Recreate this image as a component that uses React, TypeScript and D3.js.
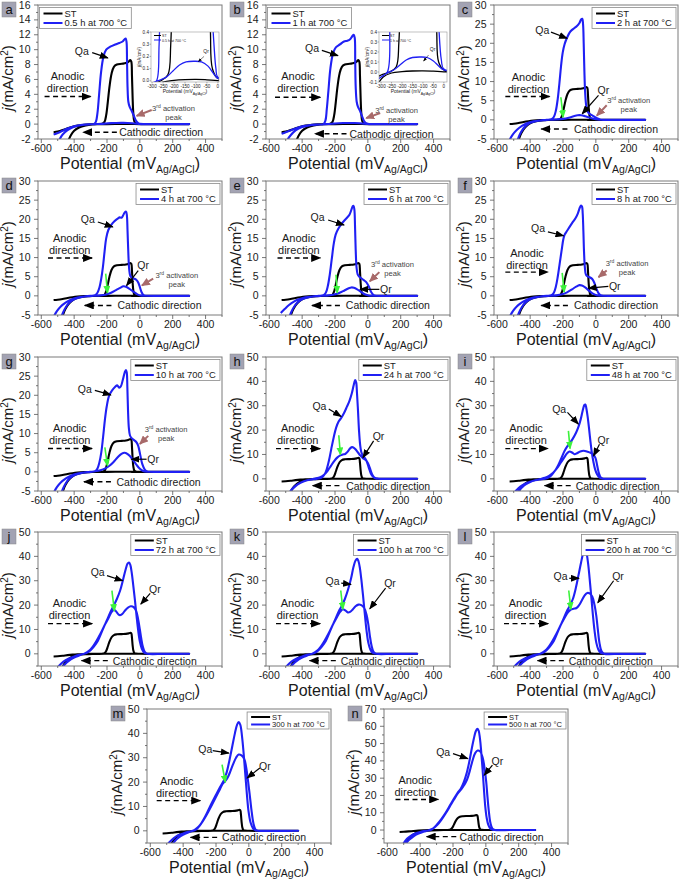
import React from 'react';
import * as d3 from 'd3';

type Pt = [number, number];

// ---------- data: [potential mV, j mA/cm2], forward scan then reverse scan ----------
const ST: Pt[] = [
  [-525, -1.1], [-500, -1.0], [-470, -0.8], [-440, -0.55], [-410, -0.35], [-380, -0.2], [-340, -0.08], [-300, -0.03], [-260, 0], [-228, 0.05],
  [-215, 0.3], [-205, 1.2], [-195, 3], [-185, 5], [-172, 6.8], [-158, 7.7], [-140, 8.0], [-110, 8.1], [-85, 8.2], [-68, 8.4], [-58, 8.6],
  [-52, 8.4], [-48, 6.5], [-44, 3.5], [-40, 1.5], [-34, 0.4], [-25, 0.1], [0, 0.02], [150, 0], [300, 0],
  [150, 0.001], [0, 0.002], [-50, 0.008], [-100, 0.012], [-150, 0.01], [-200, 0.004], [-250, -0.01], [-290, -0.05], [-330, -0.18],
  [-370, -0.45], [-400, -0.9], [-420, -1.5], [-440, -2.5], [-455, -3.6], [-468, -5], [-480, -6.5], [-495, -8.5],
];

const H0_5: Pt[] = [
  [-525, -1.4], [-500, -1.2], [-470, -0.9], [-440, -0.6], [-400, -0.3], [-350, -0.1], [-300, -0.02], [-280, 0], [-268, 0.3], [-258, 1.5],
  [-248, 4], [-236, 7], [-222, 9], [-205, 10], [-180, 10.4], [-150, 10.7], [-125, 10.9], [-105, 11.1], [-93, 11.4], [-86, 11.5], [-81, 11],
  [-78, 8.5], [-75, 5], [-70, 3], [-62, 2.3], [-50, 1.8], [-38, 1.2], [-26, 0.55], [-18, 0.3], [-9, 0.1], [0, 0.03], [150, 0], [300, 0],
  [150, 0.001], [0, 0.02], [-20, 0.06], [-45, 0.12], [-75, 0.155], [-110, 0.16], [-145, 0.155], [-175, 0.13], [-205, 0.08], [-235, 0.03],
  [-265, 0.005], [-300, -0.02], [-350, -0.1], [-400, -0.35], [-440, -0.8], [-470, -1.4], [-495, -2.3], [-515, -3.2],
];

const H1: Pt[] = [
  [-525, -1.3], [-500, -1.1], [-470, -0.85], [-440, -0.6], [-400, -0.3], [-350, -0.12], [-300, -0.05], [-270, 0], [-258, 0.5], [-250, 2],
  [-240, 4.5], [-228, 7.5], [-212, 9.5], [-195, 10.3], [-170, 10.7], [-145, 11.1], [-125, 11.2], [-108, 11.4], [-95, 11.8], [-86, 12],
  [-80, 11.6], [-77, 8.5], [-74, 5], [-68, 3], [-60, 2.3], [-48, 1.8], [-36, 1.1], [-24, 0.45], [-12, 0.12], [0, 0.03], [150, 0], [300, 0],
  [150, 0.001], [0, 0.02], [-25, 0.06], [-50, 0.11], [-80, 0.145], [-115, 0.15], [-150, 0.145], [-180, 0.12], [-210, 0.07], [-240, 0.02],
  [-270, -0.01], [-300, -0.05], [-350, -0.15], [-400, -0.4], [-440, -0.85], [-470, -1.5], [-492, -2.2], [-512, -3.2],
];

const H2: Pt[] = [
  [-525, -5.2], [-505, -3.8], [-480, -2.6], [-450, -1.6], [-420, -0.9], [-380, -0.4], [-340, -0.15], [-300, 0], [-270, 0.2], [-255, 0.8],
  [-243, 2.5], [-232, 5.5], [-222, 9.5], [-212, 14], [-202, 17.5], [-190, 19.8], [-175, 21.5], [-160, 22.8], [-145, 23.5], [-130, 24],
  [-115, 24.5], [-100, 25.3], [-90, 26.2], [-83, 26.4], [-78, 25], [-74, 20], [-70, 13], [-65, 7], [-58, 3.5], [-48, 2], [-35, 1.5],
  [-20, 1.1], [-5, 0.7], [10, 0.35], [25, 0.1], [45, 0], [150, 0], [300, 0],
  [150, 0.001], [40, 0.02], [10, 0.1], [-15, 0.3], [-40, 0.6], [-65, 0.95], [-90, 1.2], [-110, 1.2], [-135, 0.95], [-165, 0.55], [-200, 0.25],
  [-240, 0.1], [-280, 0.02], [-320, -0.1], [-360, -0.3], [-400, -0.8], [-430, -1.7], [-450, -2.8], [-465, -4], [-478, -5.5], [-490, -7],
];

const H4: Pt[] = [
  [-525, -5.5], [-505, -4], [-480, -2.7], [-450, -1.7], [-420, -1.0], [-380, -0.45], [-340, -0.15], [-300, 0], [-272, 0.2], [-258, 0.8],
  [-246, 2.2], [-235, 4.5], [-225, 7.5], [-215, 11.5], [-205, 15], [-192, 17.2], [-175, 18.5], [-155, 19.5], [-135, 20.2], [-122, 20.5],
  [-112, 20.4], [-102, 21], [-92, 21.8], [-84, 22], [-79, 21], [-75, 17], [-70, 11], [-65, 7], [-58, 5.2], [-48, 4.7], [-35, 4.5],
  [-22, 4.2], [-10, 3.5], [0, 2.3], [10, 1], [20, 0.3], [35, 0.05], [60, 0], [150, 0], [300, 0],
  [150, 0.001], [30, 0.02], [5, 0.1], [-15, 0.4], [-40, 1.1], [-65, 1.9], [-85, 2.4], [-100, 2.5], [-120, 2.1], [-145, 1.5], [-175, 0.8],
  [-205, 0.35], [-240, 0.12], [-280, 0.02], [-320, -0.1], [-360, -0.35], [-400, -0.9], [-430, -1.8], [-450, -2.9], [-466, -4.2], [-478, -5.5], [-490, -7],
];

const H6: Pt[] = [
  [-530, -4.5], [-505, -3.4], [-480, -2.4], [-450, -1.5], [-420, -0.9], [-380, -0.4], [-340, -0.15], [-300, 0], [-270, 0.2], [-256, 0.8],
  [-244, 2.5], [-232, 5.5], [-220, 9.5], [-208, 13.5], [-196, 16], [-180, 17.5], [-160, 18.8], [-140, 19.8], [-125, 20.5], [-112, 21.2],
  [-100, 22.5], [-92, 23.4], [-87, 23.5], [-82, 22.5], [-78, 18], [-74, 12], [-69, 7.5], [-62, 5.6], [-52, 5], [-40, 4.6], [-25, 4.1],
  [-10, 3.6], [5, 2.5], [20, 1], [35, 0.2], [50, 0], [150, 0], [300, 0],
  [150, 0.001], [30, 0.02], [5, 0.1], [-15, 0.35], [-40, 1], [-65, 1.7], [-85, 2.1], [-100, 2.2], [-120, 1.9], [-145, 1.35], [-175, 0.75],
  [-205, 0.35], [-240, 0.12], [-280, 0.02], [-320, -0.1], [-360, -0.35], [-400, -0.9], [-430, -1.8], [-450, -2.9], [-466, -4.2], [-478, -5.5], [-490, -7],
];

const H8: Pt[] = [
  [-525, -5.5], [-505, -4], [-480, -2.7], [-450, -1.7], [-420, -1.0], [-380, -0.45], [-340, -0.15], [-300, 0], [-270, 0.2], [-255, 0.9],
  [-243, 2.5], [-232, 5], [-220, 8.5], [-208, 12], [-198, 14.8], [-190, 16], [-175, 17], [-160, 18], [-140, 19.3], [-125, 20.2],
  [-110, 21.5], [-98, 23], [-90, 23.6], [-84, 23.3], [-80, 21.5], [-76, 17], [-72, 11.5], [-67, 7.5], [-60, 5.5], [-48, 5], [-35, 4.8],
  [-22, 4.4], [-10, 3.5], [2, 2], [15, 0.8], [28, 0.2], [45, 0], [150, 0], [300, 0],
  [150, 0.001], [30, 0.02], [5, 0.15], [-15, 0.5], [-40, 1.3], [-65, 2.2], [-85, 2.7], [-100, 2.8], [-120, 2.4], [-145, 1.7], [-175, 0.9],
  [-205, 0.4], [-240, 0.12], [-280, 0.02], [-320, -0.1], [-360, -0.35], [-400, -0.9], [-430, -1.8], [-450, -2.9], [-466, -4.2], [-478, -5.5], [-490, -7],
];

const H10: Pt[] = [
  [-525, -5.5], [-505, -4], [-480, -2.7], [-450, -1.7], [-420, -1.0], [-380, -0.45], [-340, -0.15], [-300, 0], [-272, 0.2], [-258, 0.9],
  [-246, 2.5], [-235, 5], [-224, 9], [-213, 13.5], [-202, 17], [-188, 19.8], [-170, 21.2], [-150, 22.2], [-138, 22.6], [-126, 22],
  [-116, 22.3], [-104, 24], [-92, 26], [-85, 26.6], [-80, 26], [-76, 22], [-72, 16], [-67, 11.5], [-60, 9.5], [-50, 8.8], [-35, 8.3],
  [-22, 7.8], [-10, 6.8], [2, 4.5], [15, 2], [30, 0.6], [45, 0.1], [60, 0], [150, 0], [300, 0],
  [150, 0.001], [50, 0.02], [20, 0.2], [0, 0.8], [-20, 1.8], [-45, 3.3], [-70, 4.5], [-92, 5], [-112, 4.7], [-135, 3.8], [-160, 2.6],
  [-185, 1.6], [-210, 0.9], [-240, 0.4], [-280, 0.1], [-320, -0.1], [-360, -0.35], [-400, -0.9], [-430, -1.8], [-450, -2.9], [-466, -4.2], [-478, -5.5], [-490, -7],
];

const H24: Pt[] = [
  [-485, -6.5], [-465, -4.6], [-440, -3], [-415, -1.8], [-390, -1.0], [-360, -0.5], [-330, -0.2], [-300, 0.1], [-280, 0.6], [-262, 2],
  [-248, 4.5], [-235, 8], [-222, 12.5], [-208, 17], [-193, 21], [-178, 23.5], [-162, 25], [-145, 27], [-128, 29.5], [-112, 32], [-98, 35],
  [-86, 38.5], [-77, 40.5], [-71, 39.5], [-66, 35], [-60, 28], [-54, 20], [-47, 14], [-40, 11], [-30, 9.5], [-18, 8.5], [-6, 7], [6, 4.5],
  [18, 2.2], [32, 0.8], [48, 0.1], [65, 0], [150, 0], [300, 0],
  [150, 0.001], [65, 0.05], [40, 0.5], [25, 2], [12, 4.5], [0, 6.5], [-15, 7.8], [-30, 8.5], [-45, 9.5], [-60, 10.8], [-78, 12.3], [-95, 13],
  [-108, 12.5], [-122, 11.2], [-138, 10.2], [-152, 10], [-168, 9.6], [-185, 8.8], [-205, 7.3], [-225, 5.3], [-245, 3.3], [-265, 1.8],
  [-290, 0.7], [-320, 0.1], [-350, -0.3], [-380, -0.8], [-410, -1.6], [-435, -2.6], [-455, -3.8], [-470, -5], [-485, -6.5],
];

const H48: Pt[] = [
  [-505, -6.5], [-485, -4.8], [-460, -3.2], [-430, -2], [-400, -1.2], [-370, -0.6], [-340, -0.25], [-310, 0], [-290, 0.5], [-270, 1.5],
  [-250, 3.2], [-230, 5.5], [-210, 8.5], [-190, 11.5], [-175, 13.2], [-160, 14.5], [-140, 16.5], [-120, 19], [-105, 21.5], [-92, 24.5],
  [-80, 28], [-70, 30.3], [-64, 30.5], [-58, 29], [-50, 25.5], [-42, 21], [-34, 16], [-25, 11], [-15, 7], [-5, 4], [8, 1.8], [22, 0.6],
  [38, 0.1], [55, 0], [150, 0], [300, 0],
  [150, 0.001], [45, 0.05], [30, 0.6], [18, 2.5], [8, 5.5], [-2, 8.5], [-15, 10], [-30, 10.6], [-50, 11.1], [-75, 11.5], [-95, 11.2],
  [-115, 10.5], [-130, 10.1], [-145, 10.8], [-160, 11.2], [-175, 10.5], [-195, 8.5], [-215, 6.5], [-235, 4.5], [-260, 2.5], [-285, 1.2],
  [-310, 0.4], [-340, -0.1], [-370, -0.6], [-400, -1.3], [-425, -2.2], [-448, -3.4], [-465, -4.6], [-480, -6],
];

const H72: Pt[] = [
  [-510, -6.5], [-490, -4.8], [-465, -3.2], [-435, -2], [-405, -1.2], [-375, -0.5], [-345, -0.1], [-320, 0.5], [-300, 1.5], [-280, 3],
  [-256, 5.3], [-230, 9.3], [-200, 13.9], [-176, 17.6], [-160, 19.7], [-140, 22.5], [-120, 26], [-102, 30.5], [-87, 34.5], [-75, 37],
  [-66, 37.5], [-58, 36.5], [-50, 33.5], [-40, 28], [-30, 22], [-20, 15.5], [-10, 9.5], [0, 5], [12, 2], [25, 0.6], [40, 0.1], [60, 0],
  [150, 0], [300, 0],
  [150, 0.001], [45, 0.05], [30, 0.8], [18, 3], [8, 6.5], [0, 10], [-10, 14], [-22, 17.5], [-38, 19.2], [-55, 19.5], [-72, 19], [-90, 17.8],
  [-108, 16.3], [-125, 15.9], [-140, 17], [-155, 18], [-170, 17.4], [-190, 14.8], [-210, 12.3], [-230, 9.6], [-250, 7], [-270, 4.6],
  [-290, 2.6], [-310, 1.2], [-335, 0.2], [-360, -0.4], [-390, -1.2], [-420, -2.3], [-445, -3.6], [-465, -5], [-480, -6.3],
];

const H100: Pt[] = [
  [-510, -6.5], [-490, -4.8], [-465, -3.2], [-435, -2], [-405, -1.2], [-375, -0.5], [-345, -0.1], [-320, 0.5], [-300, 1.5], [-280, 3],
  [-256, 5.3], [-230, 9.3], [-200, 13.9], [-176, 17.6], [-160, 19.5], [-140, 22.5], [-120, 26.5], [-102, 31], [-88, 35.5], [-75, 38.3],
  [-65, 39], [-57, 38], [-48, 35], [-38, 29.5], [-28, 23], [-18, 16], [-8, 9.5], [3, 4.5], [15, 1.8], [28, 0.5], [45, 0.1], [60, 0],
  [150, 0], [300, 0],
  [150, 0.001], [50, 0.05], [35, 0.8], [22, 3.5], [12, 7.5], [3, 12], [-8, 16], [-22, 18.8], [-40, 20], [-57, 20.2], [-75, 19.5],
  [-92, 18.2], [-108, 17.2], [-122, 17], [-137, 17.8], [-152, 18.3], [-168, 17.3], [-190, 14.8], [-210, 12.3], [-230, 9.6], [-250, 7],
  [-270, 4.6], [-290, 2.6], [-310, 1.2], [-335, 0.2], [-360, -0.4], [-390, -1.2], [-420, -2.3], [-445, -3.6], [-465, -5], [-480, -6.3],
];

const H200: Pt[] = [
  [-510, -6.5], [-490, -4.8], [-465, -3.2], [-435, -2], [-405, -1.2], [-375, -0.5], [-345, -0.1], [-320, 0.5], [-300, 1.5], [-280, 3],
  [-256, 5.3], [-230, 9.3], [-200, 13.9], [-176, 17.6], [-160, 19.5], [-140, 22.5], [-122, 27], [-105, 32.5], [-90, 37.5], [-77, 41.2],
  [-67, 42.5], [-58, 41.5], [-48, 37.5], [-38, 31], [-28, 23.5], [-18, 16], [-8, 9.5], [3, 4.5], [15, 1.8], [28, 0.5], [45, 0.1], [60, 0],
  [150, 0], [300, 0],
  [150, 0.001], [50, 0.05], [35, 1], [22, 4.5], [12, 10], [3, 15.5], [-8, 20], [-22, 23.5], [-38, 24.8], [-52, 25], [-68, 24], [-85, 22],
  [-102, 20], [-118, 18.8], [-135, 18.5], [-152, 18.2], [-170, 17], [-190, 14.8], [-210, 12.3], [-230, 9.6], [-250, 7], [-270, 4.6],
  [-290, 2.6], [-310, 1.2], [-335, 0.2], [-360, -0.4], [-390, -1.2], [-420, -2.3], [-445, -3.6], [-465, -5], [-480, -6.3],
];

const H300: Pt[] = [
  [-505, -6.5], [-485, -4.8], [-460, -3.2], [-435, -2], [-405, -1.2], [-375, -0.5], [-345, -0.1], [-320, 0.6], [-300, 2], [-275, 4.7],
  [-250, 8], [-225, 11.5], [-200, 14.8], [-175, 18], [-153, 20.6], [-135, 24], [-118, 29], [-100, 35], [-85, 40], [-72, 43.5], [-62, 44.6],
  [-52, 43.5], [-42, 39], [-32, 32], [-22, 23.5], [-12, 15], [-2, 8], [10, 3.5], [25, 1], [40, 0.2], [60, 0], [150, 0], [300, 0],
  [150, 0.001], [55, 0.05], [40, 0.6], [28, 3], [15, 9], [5, 15], [-5, 20.5], [-15, 25.5], [-28, 29.5], [-45, 31], [-62, 31.3], [-78, 30],
  [-95, 27.5], [-112, 24.5], [-128, 22], [-143, 20.5], [-160, 19.3], [-180, 16.5], [-205, 13.3], [-230, 10], [-255, 6.8], [-280, 4],
  [-305, 1.8], [-330, 0.4], [-355, -0.3], [-385, -1.1], [-415, -2.2], [-440, -3.5], [-460, -5], [-475, -6.3],
];

const H500: Pt[] = [
  [-502, -7.8], [-480, -5], [-455, -3.2], [-430, -2], [-400, -1.1], [-370, -0.5], [-340, -0.1], [-320, 1], [-295, 3.5], [-270, 6.5],
  [-245, 10], [-220, 14], [-195, 18], [-172, 21.5], [-152, 24], [-135, 27.5], [-118, 32.5], [-102, 39], [-88, 46], [-74, 52.5], [-62, 57],
  [-52, 58.5], [-44, 57.5], [-36, 53], [-28, 45], [-20, 35], [-12, 24], [-4, 14], [5, 7], [15, 3], [28, 0.8], [45, 0.1], [65, 0],
  [150, 0], [300, 0],
  [150, 0.001], [55, 0.05], [40, 0.8], [28, 4], [18, 11], [10, 19], [2, 28], [-8, 36], [-20, 42], [-35, 45.5], [-50, 46], [-65, 44.5],
  [-80, 40.5], [-97, 34.5], [-115, 29], [-132, 26], [-150, 23.5], [-172, 21], [-195, 17.5], [-220, 13.5], [-245, 9.6], [-270, 6],
  [-295, 3], [-320, 1], [-350, -0.2], [-380, -1], [-410, -2.1], [-440, -3.6], [-465, -5.5], [-488, -7.8],
];

const PANEL_LABELS = ['a', 'b', 'c', 'd', 'e', 'f', 'g', 'h', 'i', 'j', 'k', 'l', 'm', 'n'];
const LEGEND_LABELS = ['0.5 h at 700 °C', '1 h at 700 °C', '2 h at 700 °C', '4 h at 700 °C', '6 h at 700 °C', '8 h at 700 °C',
  '10 h at 700 °C', '24 h at 700 °C', '48 h at 700 °C', '72 h at 700 °C', '100 h at 700 °C', '200 h at 700 °C', '300 h at 700 °C', '500 h at 700 °C'];
const SERIES: Pt[][] = [H0_5, H1, H2, H4, H6, H8, H10, H24, H48, H72, H100, H200, H300, H500];
const X_TICKS = [-600, -400, -200, 0, 200, 400];
const Y_TICKS_16 = [-2, 0, 2, 4, 6, 8, 10, 12, 14, 16];
const Y_TICKS_30 = [-5, 0, 5, 10, 15, 20, 25, 30];
const Y_TICKS_50 = [0, 10, 20, 30, 40, 50];
const Y_TICKS_70 = [0, 10, 20, 30, 40, 50, 60, 70];
const INSET_X_TICKS = [-300, -250, -200, -150, -100, -50, 0];
const INSET_Y_TICKS_A = [0, 0.1, 0.2, 0.3, 0.4];
const INSET_Y_TICKS_B = [-0.1, 0, 0.1, 0.2, 0.3, 0.4];

// ---------- layout / annotations ----------
const FW = 184;
const FH = 134;
const X_DOMAIN: [number, number] = [-620, 500];
const BLUE = '#2020f4';
const FONT = 'Liberation Sans, Arial, Helvetica, sans-serif';

type Ann = { t: Pt; a: [Pt, Pt] };
type Cfg = {
  frame: [number, number];
  yDomain: [number, number];
  yTicks: number[];
  yMinor: number;
  legendLeft?: boolean;
  small?: boolean;
  qa: Ann;
  qr?: Ann;
  act?: Ann;
  green?: [Pt, Pt];
  anodic: { t: Pt; ay: number; ax: [number, number] };
  cath: { x: number; y: number; ax: [number, number] };
  inset?: { pos: [number, number]; size: [number, number]; xd: [number, number]; yd: [number, number]; yTicks: number[]; qr: Ann };
};

const CFG: Cfg[] = [
  { frame: [38, 5], yDomain: [-2, 16], yTicks: Y_TICKS_16, yMinor: 1, legendLeft: true,
    qa: { t: [-353, 9.8], a: [[-290, 9.6], [-195, 8.9]] },
    act: { t: [205, 2.2], a: [[72, 1.9], [-20, 1.1]] },
    anodic: { t: [-440, 6.4], ay: 3.7, ax: [-580, -300] },
    cath: { x: -126, y: -1.1, ax: [-140, -345] },
    inset: { pos: [113, 27], size: [68, 50], xd: [-305, 5], yd: [-0.01, 0.4], yTicks: INSET_Y_TICKS_A, qr: { t: [-54, 0.225], a: [[-63, 0.2], [-89, 0.158]] } } },
  { frame: [266, 5], yDomain: [-2, 16], yTicks: Y_TICKS_16, yMinor: 1, legendLeft: true,
    qa: { t: [-340, 10.2], a: [[-280, 9.9], [-182, 9.2]] },
    act: { t: [175, 1.9], a: [[75, 1.5], [-10, 0.8]] },
    anodic: { t: [-425, 6.4], ay: 3.6, ax: [-565, -290] },
    cath: { x: -112, y: -1.3, ax: [-130, -322] },
    inset: { pos: [113, 27], size: [68, 50], xd: [-310, 15], yd: [-0.1, 0.4], yTicks: INSET_Y_TICKS_B, qr: { t: [-54, 0.21], a: [[-73, 0.17], [-97, 0.11]] } } },
  { frame: [494, 5], yDomain: [-5, 30], yTicks: Y_TICKS_30, yMinor: 2.5,
    qa: { t: [-326, 23.5], a: [[-273, 22.9], [-175, 21.3]] },
    qr: { t: [46, 7.7], a: [[16, 6.4], [-83, 1.6]] },
    act: { t: [200, 5.1], a: [[66, 3.8], [6, 1.1]] },
    green: [[-213, 5.9], [-199, 0.7]],
    anodic: { t: [-410, 11.2], ay: 6.1, ax: [-551, -282] },
    cath: { x: -133, y: -2.4, ax: [-173, -332] } },
  { frame: [38, 181], yDomain: [-5, 30], yTicks: Y_TICKS_30, yMinor: 2.5,
    qa: { t: [-317, 20.2], a: [[-256, 19.3], [-165, 18]] },
    qr: { t: [20, 8], a: [[-10, 6.6], [-81, 2.7]] },
    act: { t: [225, 5.5], a: [[81, 4.5], [12, 2.7]] },
    green: [[-208, 5.8], [-197, 0.8]],
    anodic: { t: [-427, 15], ay: 9.9, ax: [-559, -291] },
    cath: { x: -136, y: -2.5, ax: [-173, -335] } },
  { frame: [266, 181], yDomain: [-5, 30], yTicks: Y_TICKS_30, yMinor: 2.5,
    qa: { t: [-306, 20.6], a: [[-242, 19.8], [-145, 18.5]] },
    qr: { t: [110, 1.7], a: [[70, 1.7], [-48, 1.7]] },
    act: { t: [150, 8.4], a: [[70, 6.2], [12, 3.8]] },
    green: [[-194, 5.5], [-186, 0.8]],
    anodic: { t: [-420, 15], ay: 9.9, ax: [-550, -290] },
    cath: { x: -134, y: -2.5, ax: [-170, -340] } },
  { frame: [494, 181], yDomain: [-5, 30], yTicks: Y_TICKS_30, yMinor: 2.5,
    qa: { t: [-352, 17.6], a: [[-292, 16.7], [-197, 15.7]] },
    qr: { t: [115, 2.7], a: [[76, 2.5], [-44, 2.0]] },
    act: { t: [190, 8.7], a: [[66, 6.6], [16, 4.9]] },
    green: [[-205, 6], [-193, 1.0]],
    anodic: { t: [-419, 11.3], ay: 6.2, ax: [-551, -292] },
    cath: { x: -133, y: -2.5, ax: [-170, -332] } },
  { frame: [38, 357], yDomain: [-5, 30], yTicks: Y_TICKS_30, yMinor: 2.5,
    qa: { t: [-335, 21.7], a: [[-274, 21.3], [-177, 20.1]] },
    qr: { t: [81, 3.3], a: [[41, 3.3], [-51, 3.3]] },
    act: { t: [160, 11.2], a: [[51, 9.4], [0, 7.3]] },
    green: [[-213, 6.4], [-197, 1.6]],
    anodic: { t: [-427, 11.4], ay: 6.1, ax: [-559, -291] },
    cath: { x: -142, y: -2.6, ax: [-176, -340] } },
  { frame: [266, 357], yDomain: [-5, 50], yTicks: Y_TICKS_50, yMinor: 5,
    qa: { t: [-295, 30], a: [[-238, 28.7], [-163, 25.6]] },
    qr: { t: [65, 17.4], a: [[35, 15.6], [-30, 8.7]] },
    green: [[-177, 17.9], [-167, 10]],
    anodic: { t: [-427, 20.7], ay: 12.4, ax: [-559, -291] },
    cath: { x: -132, y: -2.8, ax: [-173, -335] } },
  { frame: [494, 357], yDomain: [-5, 50], yTicks: Y_TICKS_50, yMinor: 5,
    qa: { t: [-223, 28.6], a: [[-173, 27.3], [-107, 22.5]] },
    qr: { t: [46, 15.8], a: [[22, 14.2], [-14, 9.4]] },
    green: [[-167, 19.7], [-157, 12.4]],
    anodic: { t: [-425, 20.7], ay: 12.4, ax: [-551, -292] },
    cath: { x: -123, y: -2.8, ax: [-153, -312] } },
  { frame: [38, 532], yDomain: [-5, 50], yTicks: Y_TICKS_50, yMinor: 5,
    qa: { t: [-257, 33.5], a: [[-200, 32.1], [-105, 30]] },
    qr: { t: [91, 26.6], a: [[63, 24.8], [6, 20.4]] },
    green: [[-170, 25.9], [-155, 17.6]],
    anodic: { t: [-428, 20.7], ay: 12.4, ax: [-559, -291] },
    cath: { x: -165, y: -2.8, ax: [-195, -355] } },
  { frame: [266, 532], yDomain: [-5, 50], yTicks: Y_TICKS_50, yMinor: 5,
    qa: { t: [-215, 30], a: [[-162, 29], [-103, 28.5]] },
    qr: { t: [135, 29], a: [[108, 27], [12, 18.5]] },
    green: [[-165, 26], [-152, 18.3]],
    anodic: { t: [-428, 20.7], ay: 12.4, ax: [-559, -291] },
    cath: { x: -165, y: -2.8, ax: [-195, -355] } },
  { frame: [494, 532], yDomain: [-5, 50], yTicks: Y_TICKS_50, yMinor: 5,
    qa: { t: [-215, 32], a: [[-162, 31], [-103, 31]] },
    qr: { t: [135, 32], a: [[108, 30], [12, 21]] },
    green: [[-165, 26], [-152, 18.3]],
    anodic: { t: [-428, 20.7], ay: 12.4, ax: [-559, -291] },
    cath: { x: -165, y: -2.8, ax: [-195, -355] } },
  { frame: [147, 709], yDomain: [-5, 50], yTicks: Y_TICKS_50, yMinor: 5, small: true,
    qa: { t: [-265, 33.6], a: [[-220, 32.9], [-122, 31.9]] },
    qr: { t: [98, 26.8], a: [[67, 25.8], [-10, 21.7]] },
    green: [[-163, 27.2], [-143, 19.9]],
    anodic: { t: [-439, 20.6], ay: 12.4, ax: [-561, -296] },
    cath: { x: -163, y: -2.7, ax: [-193, -355] } },
  { frame: [384, 709], yDomain: [-7.5, 70], yTicks: Y_TICKS_70, yMinor: 5, small: true,
    qa: { t: [-260, 45.2], a: [[-200, 44.2], [-110, 41.3]] },
    qr: { t: [70, 39.8], a: [[40, 37.5], [-10, 31.7]] },
    anodic: { t: [-430, 28.8], ay: 17.7, ax: [-550, -290] },
    cath: { x: -160, y: -3.8, ax: [-180, -360] } },
];

const CW: Record<string, number> = { ' ': 0.278, '.': 0.278, t: 0.278, '°': 0.4, C: 0.722, S: 0.667, T: 0.611 };
const textW = (s: string, size: number) => s.split('').reduce((a, ch) => a + (CW[ch] ?? 0.556), 0) * size;

const lineGen = (x: d3.ScaleLinear<number, number>, y: d3.ScaleLinear<number, number>) =>
  d3.line<Pt>().x((d) => x(d[0])).y((d) => y(d[1])).curve(d3.curveCatmullRom.alpha(0.5));

function Arr({ p0, p1, x, y, color, marker, w, dash }: any) {
  return (
    <line x1={x(p0[0])} y1={y(p0[1])} x2={x(p1[0])} y2={y(p1[1])} stroke={color} strokeWidth={w}
      strokeDasharray={dash} markerEnd={`url(#${marker})`} />
  );
}

function Inset({ cfg, data, legend, id }: { cfg: NonNullable<Cfg['inset']>; data: Pt[]; legend: string; id: string }) {
  const [ox, oy] = cfg.pos;
  const [w, h] = cfg.size;
  const x = d3.scaleLinear().domain(cfg.xd).range([0, w]);
  const y = d3.scaleLinear().domain(cfg.yd).range([h, 0]);
  const lg = lineGen(x, y);
  return (
    <g transform={`translate(${ox},${oy})`}>
      <rect x={0} y={0} width={w} height={h} fill="#fff" />
      <clipPath id={`ic-${id}`}><rect x={0} y={0} width={w} height={h} /></clipPath>
      <g clipPath={`url(#ic-${id})`}>
        <path d={lg(ST) || ''} fill="none" stroke="#000" strokeWidth={1.3} />
        <path d={lg(data) || ''} fill="none" stroke={BLUE} strokeWidth={1.3} />
      </g>
      <rect x={0} y={0} width={w} height={h} fill="none" stroke="#999" strokeWidth={0.6} />
      {INSET_X_TICKS.map((t) => (
        <g key={t}>
          <line x1={x(t)} x2={x(t)} y1={h} y2={h + 1.5} stroke="#666" strokeWidth={0.5} />
          <text x={x(t)} y={h + 5.5} fontSize={4.6} textAnchor="middle" fill="#222">{t}</text>
        </g>
      ))}
      {cfg.yTicks.map((t) => (
        <g key={t}>
          <line x1={-1.5} x2={0} y1={y(t)} y2={y(t)} stroke="#666" strokeWidth={0.5} />
          <text x={-2} y={y(t) + 1.6} fontSize={4.6} textAnchor="end" fill="#222">{t.toFixed(1)}</text>
        </g>
      ))}
      <text x={w / 2} y={h + 11} fontSize={5} textAnchor="middle" fill="#222">
        Potential (mV<tspan dy={1.5} fontSize={3.5}>Ag/AgCl</tspan><tspan dy={-1.5}>)</tspan>
      </text>
      <text transform={`translate(${-10},${h / 2}) rotate(-90)`} fontSize={4.6} textAnchor="middle" fill="#222">
        <tspan fontStyle="italic">j</tspan>(mA/cm<tspan dy={-1.5} fontSize={3.2}>2</tspan><tspan dy={1.5}>)</tspan>
      </text>
      <line x1={3} x2={10} y1={3.5} y2={3.5} stroke="#000" strokeWidth={1} />
      <text x={11} y={5} fontSize={3.6} fill="#222">ST</text>
      <line x1={3} x2={10} y1={8} y2={8} stroke={BLUE} strokeWidth={1} />
      <text x={11} y={9.5} fontSize={3.6} fill="#222">{legend}</text>
      <text x={x(cfg.qr.t[0])} y={y(cfg.qr.t[1])} fontSize={5} textAnchor="middle" fill="#222">Qr</text>
      <Arr p0={cfg.qr.a[0]} p1={cfg.qr.a[1]} x={x} y={y} color="#000" marker="mk-black-s" w={0.5} />
    </g>
  );
}

function Panel({ c, i }: { c: Cfg; i: number }) {
  const [fx, fy] = c.frame;
  const x = d3.scaleLinear().domain(X_DOMAIN).range([0, FW]);
  const y = d3.scaleLinear().domain(c.yDomain).range([FH, 0]);
  const lg = lineGen(x, y);
  const label = PANEL_LABELS[i];
  const legend = LEGEND_LABELS[i];
  const data = SERIES[i];
  const xMinor = d3.range(-600, 501, 100);
  const yMinor = d3.range(Math.ceil(c.yDomain[0] / c.yMinor) * c.yMinor, c.yDomain[1] + 1e-9, c.yMinor);
  const lf = c.small ? 7.6 : 9.4;
  const lw = 26 + textW(legend, lf) + 3;
  const lh = c.small ? 17 : 21;
  const lx = c.legendLeft ? 1.5 : FW - 2 - lw;
  const ly = c.small ? 3 : 2.5;
  const row1 = c.small ? 5 : 6;
  const row2 = c.small ? 12.5 : 15.5;
  const clip = `clip-${label}`;
  const txt = '#1a1a1a';
  return (
    <g transform={`translate(${fx},${fy})`}>
      <clipPath id={clip}><rect x={0} y={0} width={FW} height={FH} /></clipPath>
      <g clipPath={`url(#${clip})`}>
        <path d={lg(ST) || ''} fill="none" stroke="#000" strokeWidth={2.1} strokeLinejoin="round" />
        <path d={lg(data) || ''} fill="none" stroke={BLUE} strokeWidth={2.1} strokeLinejoin="round" />
      </g>
      <rect x={0} y={0} width={FW} height={FH} fill="none" stroke="#7a7a7a" strokeWidth={1} />
      {xMinor.map((t) => (
        <line key={`xm${t}`} x1={x(t)} x2={x(t)} y1={FH} y2={FH + (t % 200 === 0 ? 4 : 2)} stroke="#555" strokeWidth={0.8} />
      ))}
      {X_TICKS.map((t) => (
        <text key={`xt${t}`} x={x(t)} y={FH + 13} fontSize={10.5} textAnchor="middle" fill={txt}>{t}</text>
      ))}
      {yMinor.map((t) => (
        <line key={`ym${t}`} x1={-(c.yTicks.some((v) => Math.abs(v - t) < 1e-6) ? 4 : 2)} x2={0} y1={y(t)} y2={y(t)} stroke="#555" strokeWidth={0.8} />
      ))}
      {c.yTicks.map((t) => (
        <text key={`yt${t}`} x={-7.5} y={y(t) + 3.5} fontSize={10.5} textAnchor="end" fill={txt}>{t}</text>
      ))}
      <text x={FW / 2} y={FH + 30} fontSize={16} textAnchor="middle" fill={txt}>
        Potential (mV<tspan dy={4} fontSize={10.5}>Ag/AgCl</tspan><tspan dy={-4}>)</tspan>
      </text>
      <text transform={`translate(${-25},${FH / 2 + 6}) rotate(-90)`} fontSize={15} textAnchor="middle" fill={txt}>
        <tspan fontStyle="italic">j</tspan>(mA/cm<tspan dy={-5} fontSize={10}>2</tspan><tspan dy={5}>)</tspan>
      </text>
      <rect x={-36} y={-3} width={14} height={15} fill="#a3a3b3" stroke="#888" strokeWidth={0.5} />
      <text x={-29} y={9} fontSize={13} textAnchor="middle" fill="#111">{label}</text>

      {/* legend */}
      <g transform={`translate(${lx},${ly})`}>
        <rect x={0} y={0} width={lw} height={lh} fill="#fff" stroke="#8a8a8a" strokeWidth={0.8} />
        <line x1={4} x2={23} y1={row1} y2={row1} stroke="#000" strokeWidth={2} />
        <text x={25} y={row1 + lf * 0.36} fontSize={lf} fill={txt}>ST</text>
        <line x1={4} x2={23} y1={row2} y2={row2} stroke={BLUE} strokeWidth={2} />
        <text x={25} y={row2 + lf * 0.36} fontSize={lf} fill={txt}>{legend}</text>
      </g>

      {/* annotations */}
      <text x={x(c.qa.t[0])} y={y(c.qa.t[1]) + 4} fontSize={10.5} textAnchor="middle" fill={txt}>Qa</text>
      <Arr p0={c.qa.a[0]} p1={c.qa.a[1]} x={x} y={y} color="#000" marker="mk-black" w={1.2} />
      {c.qr && (
        <g>
          <text x={x(c.qr.t[0])} y={y(c.qr.t[1]) + 4} fontSize={10.5} textAnchor="middle" fill={txt}>Qr</text>
          <Arr p0={c.qr.a[0]} p1={c.qr.a[1]} x={x} y={y} color="#000" marker="mk-black" w={1.2} />
        </g>
      )}
      {c.act && (
        <g>
          <text x={x(c.act.t[0])} y={y(c.act.t[1]) + 3} fontSize={7.6} textAnchor="middle" fill="#444">
            3<tspan dy={-3} fontSize={5}>rd</tspan><tspan dy={3}> activation</tspan>
          </text>
          <text x={x(c.act.t[0])} y={y(c.act.t[1]) + 12} fontSize={7.6} textAnchor="middle" fill="#444">peak</text>
          <Arr p0={c.act.a[0]} p1={c.act.a[1]} x={x} y={y} color="#a86a6a" marker="mk-brown" w={2} />
        </g>
      )}
      {c.green && <Arr p0={c.green[0]} p1={c.green[1]} x={x} y={y} color="#3cf23c" marker="mk-green" w={1.6} />}
      <text x={x(c.anodic.t[0])} y={y(c.anodic.t[1]) + 4} fontSize={11} textAnchor="middle" fill={txt}>Anodic</text>
      <text x={x(c.anodic.t[0])} y={y(c.anodic.t[1]) + 16} fontSize={11} textAnchor="middle" fill={txt}>direction</text>
      <Arr p0={[c.anodic.ax[0], c.anodic.ay]} p1={[c.anodic.ax[1], c.anodic.ay]} x={x} y={y} color="#000" marker="mk-dash" w={1.4} dash="5,3.5" />
      <text x={x(c.cath.x)} y={y(c.cath.y) + 4} fontSize={10.5} fill={txt}>Cathodic direction</text>
      <Arr p0={[c.cath.ax[0], c.cath.y]} p1={[c.cath.ax[1], c.cath.y]} x={x} y={y} color="#000" marker="mk-dash" w={1.4} dash="5,3.5" />

      {c.inset && <Inset cfg={c.inset} data={data} legend={legend} id={label} />}
    </g>
  );
}

export default function App() {
  return (
    <svg width={685} height={881} viewBox="0 0 685 881" style={{ position: 'absolute', left: 0, top: 0, background: '#fff' }}
      fontFamily={FONT}>
      <defs>
        <marker id="mk-black" markerUnits="userSpaceOnUse" markerWidth={9} markerHeight={7} refX={8} refY={3.5} orient="auto">
          <path d="M0,0 L9,3.5 L0,7 Z" fill="#000" />
        </marker>
        <marker id="mk-black-s" markerUnits="userSpaceOnUse" markerWidth={4} markerHeight={3} refX={3.5} refY={1.5} orient="auto">
          <path d="M0,0 L4,1.5 L0,3 Z" fill="#000" />
        </marker>
        <marker id="mk-dash" markerUnits="userSpaceOnUse" markerWidth={10} markerHeight={8} refX={9} refY={4} orient="auto">
          <path d="M0,0 L10,4 L0,8 Z" fill="#000" />
        </marker>
        <marker id="mk-brown" markerUnits="userSpaceOnUse" markerWidth={9} markerHeight={8} refX={8} refY={4} orient="auto">
          <path d="M0,0 L9,4 L0,8 Z" fill="#a86a6a" />
        </marker>
        <marker id="mk-green" markerUnits="userSpaceOnUse" markerWidth={8} markerHeight={7} refX={7} refY={3.5} orient="auto">
          <path d="M0,0 L8,3.5 L0,7 Z" fill="#3cf23c" />
        </marker>
      </defs>
      <rect x={0} y={0} width={685} height={881} fill="#fff" />
      {CFG.map((c, i) => <Panel key={i} c={c} i={i} />)}
    </svg>
  );
}
